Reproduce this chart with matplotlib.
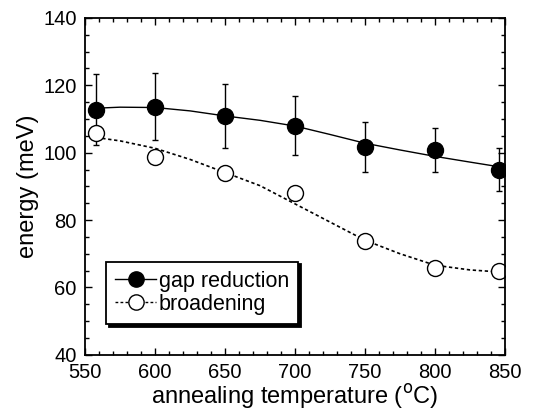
import matplotlib.pyplot as plt
from matplotlib.ticker import MultipleLocator

plt.rcParams['font.family'] = ['Liberation Sans', 'DejaVu Sans']

# measured points
temp = [558, 600, 650, 700, 750, 800, 846]
gap = [112.8, 113.7, 110.9, 108.0, 101.8, 100.8, 94.9]
gap_err = [10.6, 10.0, 9.4, 8.8, 7.4, 6.6, 6.4]
broad = [105.8, 98.8, 93.9, 88.0, 73.9, 65.8, 64.9]

# fitted curves
fit_t = [558, 575, 600, 625, 650, 675, 700, 725, 750, 775, 800, 825, 846]
gap_fit = [113.2, 113.5, 113.4, 112.4, 110.9, 109.6, 107.9, 105.4, 102.8, 100.8, 98.9, 97.2, 95.8]
broad_fit = [104.5, 103.5, 101.3, 98.0, 94.1, 90.2, 84.8, 79.4, 74.0, 70.0, 66.6, 65.2, 64.6]

fig = plt.figure(figsize=(5.35, 4.16), dpi=100)
ax = fig.add_axes([0.159, 0.147, 0.785, 0.81])

ax.plot(fit_t, gap_fit, color='black', lw=1.0)
ax.plot(fit_t, broad_fit, color='black', lw=1.2, ls=(0, (2, 1.6)))

ax.errorbar(temp, gap, yerr=gap_err, fmt='none', ecolor='black', elinewidth=1.0, capsize=2)
ax.plot(temp, gap, 'o', color='black', ms=11.5)
ax.plot(temp, broad, 'o', mfc='white', mec='black', mew=1.0, ms=11.5)

# legend proxies
h1, = ax.plot([], [], '-o', color='black', lw=1.0, ms=11, label='gap reduction')
h2, = ax.plot([], [], 'o', ls=(0, (2, 1.6)), color='black', mfc='white', lw=1.0, ms=11,
              label='broadening')
leg = ax.legend(handles=[h1, h2], loc='lower left', bbox_to_anchor=(0.05, 0.092),
                fontsize=15.5, frameon=True, fancybox=False,
                shadow={'color': 'black', 'alpha': 1},
                handlelength=1.9, handletextpad=0.12, borderpad=0.42, labelspacing=0.1,
                borderaxespad=0)
leg.get_frame().set_edgecolor('black')
leg.get_frame().set_linewidth(1.3)

ax.set_xlim(550, 850)
ax.set_ylim(40, 140)
ax.xaxis.set_major_locator(MultipleLocator(50))
ax.xaxis.set_minor_locator(MultipleLocator(10))
ax.yaxis.set_major_locator(MultipleLocator(20))
ax.yaxis.set_minor_locator(MultipleLocator(5))
ax.tick_params(which='both', direction='in', top=True, right=True, labelsize=14.5, width=1.0)
ax.tick_params(which='major', length=5, pad=6)
ax.tick_params(which='minor', length=3)
for s in ax.spines.values():
    s.set_linewidth(1.3)

ax.set_xlabel('annealing temperature ($^{\\mathrm{o}}$C)', fontsize=17, labelpad=0)
ax.set_ylabel('energy (meV)', fontsize=17, labelpad=3)

plt.savefig('out.png', dpi=100)
